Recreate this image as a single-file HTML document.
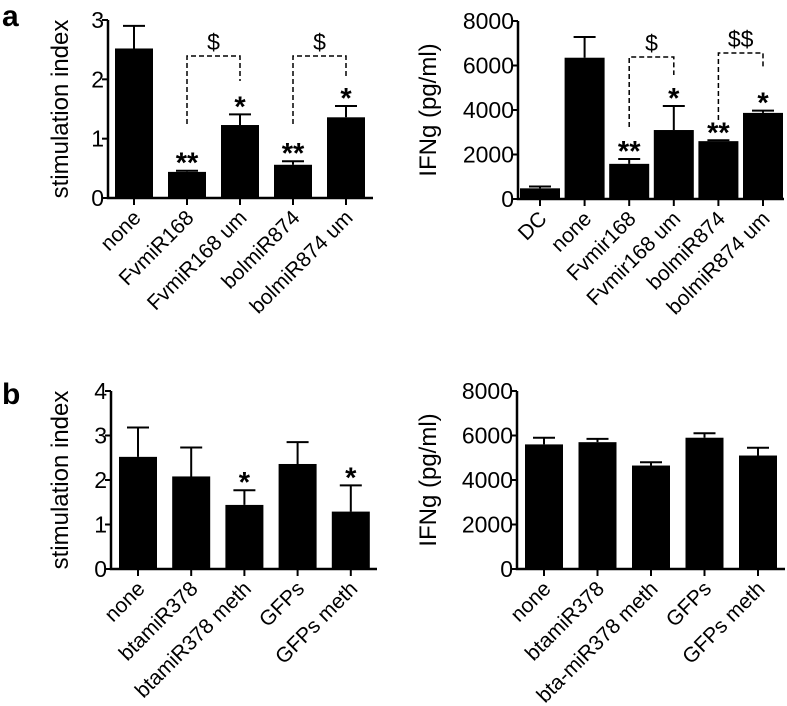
<!DOCTYPE html>
<html><head><meta charset="utf-8"><style>
html,body{margin:0;padding:0;background:#fff;}
svg{display:block;font-family:"Liberation Sans",Arial,sans-serif;}
</style></head><body>
<svg id="fig" width="787" height="706" viewBox="0 0 787 706" xmlns="http://www.w3.org/2000/svg">
<text x="2" y="26" font-size="30" font-weight="bold">a</text>
<text x="2" y="404" font-size="30" font-weight="bold">b</text>
</svg>
<script>
// Panel a-left
const aLCats = ["none","FvmiR168","FvmiR168 um","bolmiR874","bolmiR874 um"];
const aLVals = [2.52,0.44,1.23,0.56,1.36];
const aLErrs = [2.90,0.46,1.41,0.62,1.55];
const aLStars = ["","**","*","**","*"];
const aLTicks = [0,1,2,3];
// Panel a-right
const aRCats = ["DC","none","Fvmir168","Fvmir168 um","bolmiR874","bolmiR874 um"];
const aRVals = [480,6350,1580,3100,2600,3870];
const aRErrs = [560,7280,1800,4180,2640,3970];
const aRStars = ["","","**","*","**","*"];
const aRTicks = [0,2000,4000,6000,8000];
// Panel b-left
const bLCats = ["none","btamiR378","btamiR378 meth","GFPs","GFPs meth"];
const bLVals = [2.52,2.08,1.44,2.36,1.29];
const bLErrs = [3.18,2.73,1.77,2.85,1.88];
const bLStars = ["","","*","","*"];
const bLTicks = [0,1,2,3,4];
// Panel b-right
const bRCats = ["none","btamiR378","bta-miR378 meth","GFPs","GFPs meth"];
const bRVals = [5600,5700,4650,5900,5100];
const bRErrs = [5900,5850,4800,6100,5450];
const bRStars = ["","","","",""];
const bRTicks = [0,2000,4000,6000,8000];

const NS="http://www.w3.org/2000/svg";
const svg=document.getElementById('fig');
function mk(tag,attrs,parent,text){const e=document.createElementNS(NS,tag);for(const k in attrs)e.setAttribute(k,attrs[k]);if(text!==undefined)e.textContent=text;(parent||svg).appendChild(e);return e;}

function panel(cfg){
  const g=mk('g',{});
  
  
  const ymax=cfg.ticks[cfg.ticks.length-1];
  const y=v=>cfg.y0-(v/ymax)*(cfg.y0-cfg.yTop);
  const x=i=>cfg.x0c+i*cfg.step;
  const hw=cfg.bw/2;
  cfg.vals.forEach((v,i)=>{
    const b=mk('rect',{x:x(i)-hw,y:y(v),width:cfg.bw,height:cfg.y0-y(v),fill:'#000'},g);
    
    
    const e=mk('path',{d:`M${x(i)} ${y(v)}V${y(cfg.errs[i])}M${x(i)-11} ${y(cfg.errs[i])}H${x(i)+11}`,stroke:'#000','stroke-width':2,fill:'none'},g);
    
    
    if(cfg.stars[i]){
      const s=mk('text',{x:x(i),y:y(cfg.errs[i])+2,'font-size':29,'font-weight':'bold','text-anchor':'middle'},g,cfg.stars[i]);
      
      
    }
  });
  const ax=mk('path',{d:`M${cfg.ax} ${cfg.yTop}V${cfg.y0}H${cfg.axEnd}`,stroke:'#000','stroke-width':2.5,fill:'none'},g);
  
  
  cfg.ticks.forEach(t=>{
    mk('line',{x1:cfg.ax-6,x2:cfg.ax,y1:y(t),y2:y(t),stroke:'#000','stroke-width':2},g);
    const l=mk('text',{x:cfg.ax-4,y:y(t)+8,'font-size':23,'text-anchor':'end'},g,String(t));
    
    
  });
  cfg.cats.forEach((c,i)=>{
    mk('line',{x1:x(i),x2:x(i),y1:cfg.y0,y2:cfg.y0+7,stroke:'#000','stroke-width':2},g);
    const l=mk('text',{x:x(i)+8,y:cfg.y0+21,'font-size':21,'text-anchor':'end',transform:`rotate(-45 ${x(i)+8} ${cfg.y0+21})`},g,c);
    
    
  });
  const tx=cfg.titleX, ty=(cfg.y0+cfg.yTop)/2;
  const t=mk('text',{x:tx,y:ty,'font-size':24,'text-anchor':'middle',transform:`rotate(-90 ${tx} ${ty})`},g,cfg.title);
  
  
  (cfg.brackets||[]).forEach(br=>{
    const p=mk('path',{d:`M${x(br.i)} ${br.yl}V${br.top}H${x(br.j)}V${br.yr}`,stroke:'#000','stroke-width':1.5,'stroke-dasharray':'5,3',fill:'none'},g);
    
    
    const s=mk('text',{x:(x(br.i)+x(br.j))/2,y:br.top-6,'font-size':23,'text-anchor':'middle'},g,br.label);
    
    
  });
}
panel({name:'chart-a-stimulation',cats:aLCats,vals:aLVals,errs:aLErrs,stars:aLStars,ticks:aLTicks,
  y0:198,yTop:20,ax:108,axEnd:373,x0c:134,step:53,bw:38,titleX:68,title:'stimulation index',
  brackets:[{i:1,j:2,top:56,yl:124,yr:81,label:'$'},{i:3,j:4,top:56,yl:124,yr:78,label:'$'}]});
panel({name:'chart-a-ifng',cats:aRCats,vals:aRVals,errs:aRErrs,stars:aRStars,ticks:aRTicks,
  y0:199,yTop:21,ax:518,axEnd:784,x0c:540,step:44.6,bw:40,titleX:436,title:'IFNg (pg/ml)',
  brackets:[{i:2,j:3,top:57,yl:127,yr:75,label:'$'},{i:4,j:5,top:53,yl:120,yr:67,label:'$$'}]});
panel({name:'chart-b-stimulation',cats:bLCats,vals:bLVals,errs:bLErrs,stars:bLStars,ticks:bLTicks,
  y0:569,yTop:391,ax:111,axEnd:377,x0c:138,step:53.2,bw:38,titleX:68,title:'stimulation index'});
panel({name:'chart-b-ifng',cats:bRCats,vals:bRVals,errs:bRErrs,stars:bRStars,ticks:bRTicks,
  y0:569,yTop:391,ax:517,axEnd:785,x0c:544,step:53.5,bw:38,titleX:436,title:'IFNg (pg/ml)'});
</script>
</body></html>
